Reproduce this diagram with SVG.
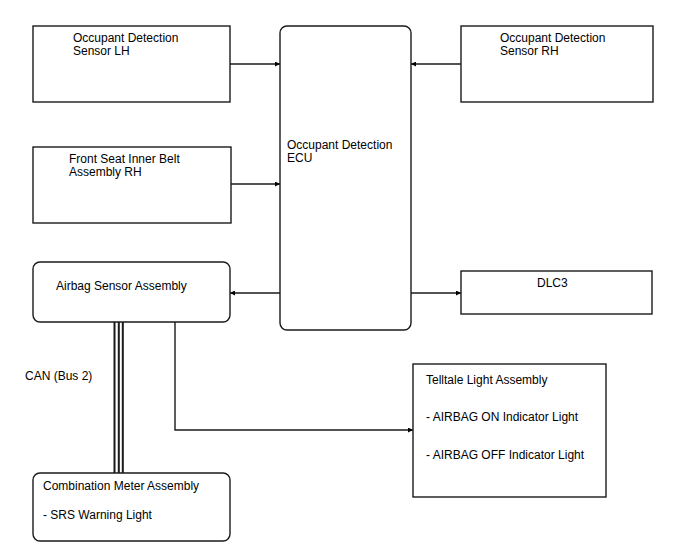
<svg xmlns="http://www.w3.org/2000/svg" width="688" height="560" viewBox="0 0 688 560">
<defs>
<marker id="ah" viewBox="0 0 10 10" refX="10" refY="5" markerWidth="8" markerHeight="5" markerUnits="userSpaceOnUse" orient="auto">
<path d="M0,0 L10,5 L0,10 Z" fill="#000"/>
</marker>
<style>
.box{fill:#fff;stroke:#1a1a1a;stroke-width:1.4}
.ln{fill:none;stroke:#1a1a1a;stroke-width:1.4}
text{font-family:"Liberation Sans",Arial,sans-serif;font-size:12px;fill:#000}
</style>
</defs>
<rect width="688" height="560" fill="#fff"/>
<g id="connectors">
<line class="ln" x1="230" y1="64" x2="280" y2="64" marker-end="url(#ah)"/>
<line class="ln" x1="461" y1="64" x2="411" y2="64" marker-end="url(#ah)"/>
<line class="ln" x1="231" y1="184" x2="280" y2="184" marker-end="url(#ah)"/>
<line class="ln" x1="280" y1="293" x2="230" y2="293" marker-end="url(#ah)"/>
<line class="ln" x1="411" y1="293" x2="461" y2="293" marker-end="url(#ah)"/>
<polyline class="ln" points="175,322 175,430 413,430" marker-end="url(#ah)"/>
<g stroke="#1a1a1a" stroke-width="2">
<line x1="114.5" y1="322" x2="114.5" y2="473"/>
<line x1="118.8" y1="322" x2="118.8" y2="473"/>
<line x1="122.8" y1="322" x2="122.8" y2="473"/>
</g>
<text x="25" y="380">CAN (Bus 2)</text>
</g>
<g id="sensor-lh">
<rect class="box" x="33" y="26" width="197" height="76"/>
<text x="73" y="42">Occupant Detection</text>
<text x="73" y="55">Sensor LH</text>
</g>
<g id="ecu">
<rect class="box" x="280" y="26" width="131" height="304" rx="7"/>
<text x="287" y="149">Occupant Detection</text>
<text x="287" y="162">ECU</text>
</g>
<g id="sensor-rh">
<rect class="box" x="461" y="26" width="192" height="76"/>
<text x="500" y="42">Occupant Detection</text>
<text x="500" y="55">Sensor RH</text>
</g>
<g id="belt-rh">
<rect class="box" x="33" y="147" width="198" height="76"/>
<text x="69" y="163">Front Seat Inner Belt</text>
<text x="69" y="176">Assembly RH</text>
</g>
<g id="airbag-sensor">
<rect class="box" x="33" y="262" width="197" height="60" rx="7"/>
<text x="56" y="290">Airbag Sensor Assembly</text>
</g>
<g id="dlc3">
<rect class="box" x="461" y="271" width="191" height="43"/>
<text x="537" y="287">DLC3</text>
</g>
<g id="telltale">
<rect class="box" x="413" y="364" width="193" height="133"/>
<text x="426" y="384">Telltale Light Assembly</text>
<text x="426" y="421">- AIRBAG ON Indicator Light</text>
<text x="426" y="459">- AIRBAG OFF Indicator Light</text>
</g>
<g id="combination-meter">
<rect class="box" x="33" y="473" width="197" height="68" rx="7"/>
<text x="43" y="490">Combination Meter Assembly</text>
<text x="43" y="519">- SRS Warning Light</text>
</g>
</svg>
